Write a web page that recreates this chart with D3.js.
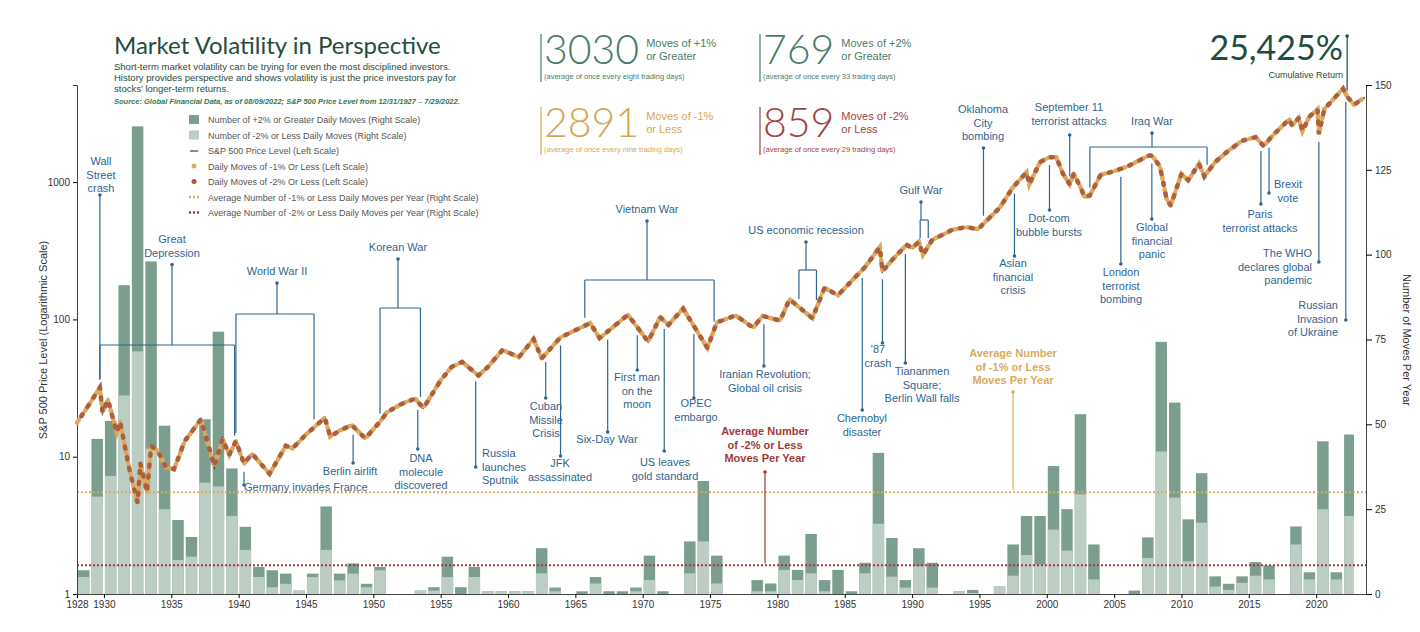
<!DOCTYPE html>
<html>
<head>
<meta charset="utf-8">
<script src="https://cdn.jsdelivr.net/npm/d3@7"></script>
<style>
body { margin: 0; background: #fff; font-family: Arial, "Liberation Sans", sans-serif; }
</style>
</head>
<body>
<svg width="1420" height="632"></svg>
<script>
const svg = d3.select("svg");

// bars: [year, total (+2% stacked on -2%), -2% count]
const barYears = [1928,1929,1930,1931,1932,1933,1934,1935,1936,1937,1938,1939,1940,1941,1942,1943,1944,1945,1946,1947,1948,1949,1950,1953,1954,1955,1956,1957,1958,1959,1960,1961,1962,1963,1965,1966,1967,1968,1969,1970,1971,1973,1974,1975,1978,1979,1980,1981,1982,1983,1984,1985,1986,1987,1988,1989,1990,1991,1993,1994,1996,1997,1998,1999,2000,2001,2002,2003,2006,2007,2008,2009,2010,2011,2012,2013,2014,2015,2016,2018,2019,2020,2021,2022,2023];
const barTotal = [7,45.7,51,91,137.8,98,49.6,21.8,16.8,51.5,77.3,37,19.8,8,7,6,1,6,25.8,6,9,3,8,1,2,11,2,8,0.8,0.8,0.8,0.8,13.5,1.9,0.8,5,0.8,0.8,1.9,11.3,0.8,15.5,33.3,11.3,4.1,3.1,11.3,7.1,17.7,4.1,7.1,0.8,9.2,41.6,16.5,4.1,13.5,9.2,0.8,1.2,2.2,14.6,23,23,37.7,25,53,14.6,1,16.7,74.3,56.4,22,35.6,5.2,3,5.2,9.4,8.4,19.9,6.4,45,6.4,47,47];
const barDown2 = [5,28.7,34.8,58.5,71.5,42.8,25,10,11,32.8,31.7,23,13,5,2,3,1,5,13,4,6,2,7,1,1,5,0,5,0.8,0.8,0.8,0.8,6.1,0.8,0,3.1,0,0,0.8,4.1,0,6.1,15.5,3.1,0.8,0.8,7.1,4.1,6.1,0.8,0,0,6.1,20.7,5.1,1.9,8.2,1.9,0.8,0.3,2.2,5.4,11.5,8.7,19,12.8,29.4,4.3,0,10.6,42,28.4,9.6,21,2.2,1.2,3.3,5.4,4.3,14.6,4.3,25,4.3,23,23];
const avgDown1 = 30;
const avgDown2 = 8.5;

// S&P 500 price level path: [year, level]
const priceYears = [1928,1928.9,1929.7,1929.9,1930.3,1930.95,1931.2,1931.9,1932.5,1932.7,1933.2,1933.5,1934,1934.6,1935.2,1936,1937.2,1938.2,1938.8,1939.3,1939.8,1940.4,1941,1942.3,1943.5,1944,1945,1946.4,1946.8,1947.5,1948.4,1949.4,1950.5,1951,1952,1953.1,1953.7,1954,1955,1955.8,1956.6,1957.8,1958.5,1959.6,1960.8,1961.9,1962.5,1963.9,1966.1,1966.8,1968.9,1970.4,1971.3,1971.9,1973,1974.8,1975.5,1976.9,1978.2,1978.9,1980.2,1980.9,1982.6,1983.5,1984.5,1985.5,1986.5,1987.6,1987.8,1988.5,1989.6,1990,1990.5,1990.8,1991.5,1993,1994,1994.9,1996.5,1997.5,1998.5,1998.7,1999.5,2000.2,2000.7,2001.2,2001.7,2002,2002.5,2002.8,2003.2,2004,2005,2006,2007.5,2007.8,2008.4,2008.9,2009.2,2010,2010.5,2011.3,2011.7,2012.5,2013.5,2014.5,2015.5,2016.1,2016.8,2018,2018.2,2018.7,2018.98,2019.5,2020.1,2020.2,2020.6,2021,2022.0,2022.3,2022.8,2023.6];
const priceLevel = [17.7,24,31.9,21,25.9,15,18,8,4.6,9,5.5,12,11,8.4,8.1,13,18.7,8.5,13.5,10.3,13,8.9,10.5,7.5,12,11.5,14.5,19.2,14,15.5,17,13.6,18,21,24,26.5,22.7,25,36,45,49,39,45,60,53,72,52,74,94,73,108,69,104,91,120,62,95,107,87,106,98,140,102,170,150,190,240,336,224,270,350,330,368,295,380,450,470,455,650,920,1180,960,1400,1520,1520,1150,965,1150,920,777,800,1130,1200,1300,1550,1565,1300,750,676,1150,1030,1360,1100,1400,1700,2000,2130,1830,2200,2870,2580,2930,2350,3000,3386,2237,3400,3750,4797,4200,3666,4130];

const xTicks = [1928,1930,1935,1940,1945,1950,1955,1960,1965,1970,1975,1980,1985,1990,1995,2000,2005,2010,2015,2020];
const leftTicks = [1,10,100,1000];
const rightTicks = [0,25,50,75,100,125,150];

const C = { dark: "#1f4e3d", barDark: "#7b9e8f", barLight: "#bccdc4", orange: "#dcaa5c", brown: "#a9553d",
  red: "#9e3b37", blue: "#2f6591", grey: "#555" };

const x = d3.scaleLinear().domain([1928, 2023.7]).range([77, 1366]);
const yR = d3.scaleLinear().domain([0, 150]).range([594, 85]);
const yL = d3.scaleLog().domain([1, Math.pow(10, 509 / 137.3)]).range([594, 85]);

const price = priceYears.map((t, i) => ({ t, v: priceLevel[i] }));
const bis = d3.bisector(d => d.t).left;
function curveY(t) {
  const i = Math.max(1, Math.min(price.length - 1, bis(price, t)));
  const a = price[i - 1], b = price[i];
  const k = (t - a.t) / (b.t - a.t);
  return yL(Math.exp(Math.log(a.v) + k * (Math.log(b.v) - Math.log(a.v))));
}

// bars
const bars = barYears.map((y, i) => ({ y, total: barTotal[i], down: barDown2[i] }));
const bw = d => Math.min(x(d.y + 1), 1355) - x(d.y) - 2;
svg.append("g").selectAll("rect").data(bars).join("rect")
  .attr("x", d => x(d.y) + 1).attr("width", bw)
  .attr("y", d => yR(d.total)).attr("height", d => yR(0) - yR(d.total))
  .attr("fill", C.barDark);
svg.append("g").selectAll("rect").data(bars).join("rect")
  .attr("x", d => x(d.y) + 1).attr("width", bw)
  .attr("y", d => yR(d.down)).attr("height", d => yR(0) - yR(d.down))
  .attr("fill", C.barLight);

// average lines
[[avgDown1, C.orange], [avgDown2, C.red]].forEach(([v, c]) => {
  svg.append("line").attr("x1", x(1928)).attr("x2", x(2023.7)).attr("y1", yR(v)).attr("y2", yR(v))
    .attr("stroke", c).attr("stroke-width", 2).attr("stroke-dasharray", "2,2");
});

// axes
svg.append("g").attr("transform", `translate(0,${yR(0)})`)
  .call(d3.axisBottom(x).tickValues(xTicks).tickFormat(d3.format("d")).tickSize(4).tickSizeOuter(0))
  .call(g => g.select(".domain").attr("stroke", "#444").attr("stroke-width", 1.2))
  .call(g => g.selectAll("text").attr("font-size", 10).attr("fill", "#333"));
svg.append("g").attr("transform", `translate(${x(1928)},0)`)
  .call(d3.axisLeft(yL).tickValues(leftTicks).tickFormat(d3.format("d")).tickSize(4))
  .call(g => g.select(".domain").attr("stroke", "#444"))
  .call(g => g.selectAll("text").attr("font-size", 10).attr("fill", "#333"));
svg.append("g").attr("transform", `translate(1366,0)`)
  .call(d3.axisRight(yR).tickValues(rightTicks).tickSize(6))
  .call(g => g.select(".domain").attr("stroke", "#444"))
  .call(g => g.selectAll("text").attr("font-size", 10).attr("fill", "#333"));
svg.append("text").attr("transform", "translate(47,340) rotate(-90)").attr("text-anchor", "middle")
  .attr("font-size", 11).attr("fill", "#333").text("S&P 500 Price Level (Logarithmic Scale)");
svg.append("text").attr("transform", "translate(1403,340) rotate(90)").attr("text-anchor", "middle")
  .attr("font-size", 11).attr("fill", "#333").text("Number of Moves Per Year");

// price line with dotted texture
const line = d3.line().x(d => x(d.t)).y(d => yL(d.v));
svg.append("path").datum(price).attr("d", line).attr("fill", "none").attr("stroke", C.dark).attr("stroke-width", 2);
svg.append("path").datum(price).attr("d", line).attr("fill", "none").attr("stroke", C.orange)
  .attr("stroke-width", 4.5).attr("stroke-dasharray", "3,4").attr("stroke-linecap", "round");
svg.append("path").datum(price).attr("d", line).attr("fill", "none").attr("stroke", C.brown)
  .attr("stroke-width", 4.5).attr("stroke-dasharray", "2,9").attr("stroke-dashoffset", 3).attr("stroke-linecap", "round").attr("opacity", 0.9);

// annotations
function label(lx, ly, lines, color, anchor, weight, fs) {
  const t = svg.append("text").attr("x", lx).attr("y", ly).attr("text-anchor", anchor || "middle")
    .attr("font-size", fs || 11).attr("fill", color || C.blue).attr("font-weight", weight || "normal");
  lines.forEach((s, i) => t.append("tspan").attr("x", lx).attr("dy", i ? (fs ? fs * 1.18 : 13.5) : 0).text(s));
}
function seg(x1, y1, x2, y2, c) {
  svg.append("line").attr("x1", x1).attr("y1", y1).attr("x2", x2).attr("y2", y2).attr("stroke", c || C.blue).attr("stroke-width", 1.2);
}
function dot(cx, cy, c) { svg.append("circle").attr("cx", cx).attr("cy", cy).attr("r", 1.8).attr("fill", c || C.blue); }

// point events: [year, lines, labelX, labelY, dotY, side, anchor]
const events = [
  [1929.7, ["Wall", "Street", "crash"], 101, 165, 195, "above"],
  [1940.4, ["Germany invades France"], 244, 491, 485, "below", "start"],
  [1948.5, ["Berlin airlift"], 350, 475, 463, "below"],
  [1953.3, ["DNA", "molecule", "discovered"], 421, 462, 449, "below"],
  [1957.6, ["Russia", "launches", "Sputnik"], 482, 457, 467, "below", "start"],
  [1962.8, ["Cuban", "Missile", "Crisis"], 546, 410, 398, "below"],
  [1963.9, ["JFK", "assassinated"], 560, 467, 456, "below"],
  [1967.4, ["Six-Day War"], 607, 443, 432, "below"],
  [1969.6, ["First man", "on the", "moon"], 637, 381, 370, "below"],
  [1971.6, ["US leaves", "gold standard"], 665, 466, 451, "below"],
  [1973.8, ["OPEC", "embargo"], 696, 407, 398, "below"],
  [1979.0, ["Iranian Revolution;", "Global oil crisis"], 765, 378, 366, "below"],
  [1986.3, ["Chernobyl", "disaster"], 862, 422, 410, "below"],
  [1987.8, ["'87", "crash"], 878, 353, 343, "below"],
  [1989.5, ["Tiananmen", "Square;", "Berlin Wall falls"], 922, 375, 363, "below"],
  [1995.3, ["Oklahoma", "City", "bombing"], 983, 113, 148, "above"],
  [1997.6, ["Asian", "financial", "crisis"], 1013, 267, 256, "below"],
  [2000.2, ["Dot-com", "bubble bursts"], 1049, 222, 210, "below"],
  [2001.7, ["September 11", "terrorist attacks"], 1069, 111, 135, "above"],
  [2005.5, ["London", "terrorist", "bombing"], 1121, 276, 264, "below"],
  [2007.8, ["Global", "financial", "panic"], 1152, 231, 219, "below"],
  [2015.9, ["Paris", "terrorist attacks"], 1260, 218, 204, "below"],
  [2016.5, ["Brexit", "vote"], 1288, 188, 193, "below"],
  [2020.2, ["The WHO", "declares global", "pandemic"], 1312, 257, 262, "below", "end"],
  [2022.2, ["Russian", "Invasion", "of Ukraine"], 1338, 309, 320, "below", "end"]
];
events.forEach(([t, lines, lx, ly, dy, side, anchor]) => {
  const px = x(t), cy = curveY(t);
  if (side === "above") seg(px, dy, px, cy - 8); else seg(px, cy + 8, px, dy);
  dot(px, dy);
  label(lx, ly, lines, C.blue, anchor);
});

// range events: [from, to, lines, labelX, labelY, bracketY]
const ranges = [
  [1929.7, 1939.7, ["Great", "Depression"], 172, 243, 345],
  [1939.8, 1945.6, ["World War II"], 277, 275, 314],
  [1950.5, 1953.5, ["Korean War"], 398, 251, 308],
  [1965.7, 1975.3, ["Vietnam War"], 647, 213, 280],
  [1981.6, 1982.9, ["US economic recession"], 806, 234, 270],
  [1990.6, 1991.2, ["Gulf War"], 921, 194, 220],
  [2003.2, 2011.9, ["Iraq War"], 1152, 125, 147]
];
ranges.forEach(([a, b, lines, lx, ly, by]) => {
  const xa = x(a), xb = x(b), top = ly + 13.5 * (lines.length - 1) + 8;
  seg(lx, top, lx, by); dot(lx, top);
  seg(xa, by, xb, by);
  seg(xa, by, xa, Math.max(by + 6, curveY(a) - 8));
  seg(xb, by, xb, Math.max(by + 6, curveY(b) - 8));
  label(lx, ly, lines);
});

// average labels
label(765, 435, ["Average Number", "of -2% or Less", "Moves Per Year"], C.red, "middle", "bold");
seg(765, 472, 765, yR(avgDown2) - 2, C.red); dot(765, 472, C.red);
label(1013, 357, ["Average Number", "of -1% or Less", "Moves Per Year"], C.orange, "middle", "bold");
seg(1013, 392, 1013, yR(avgDown1) - 2, C.orange); dot(1013, 392, C.orange);

// header
svg.append("text").attr("x", 114).attr("y", 54).attr("font-size", 24).attr("fill", C.dark)
  .attr("font-family", "Lato, sans-serif").text("Market Volatility in Perspective");
label(114, 70, ["Short-term market volatility can be trying for even the most disciplined investors.",
  "History provides perspective and shows volatility is just the price investors pay for",
  "stocks' longer-term returns."], "#1f4e3d", "start", "normal", 9.5);
svg.append("text").attr("x", 114).attr("y", 104).attr("font-size", 7.5).attr("font-style", "italic")
  .attr("font-weight", "bold").attr("fill", "#2e7a50")
  .text("Source: Global Financial Data, as of 08/09/2022; S&P 500 Price Level from 12/31/1927 – 7/29/2022.");

// legend
const legend = [
  ["rect", C.barDark, "Number of +2% or Greater Daily Moves (Right Scale)"],
  ["rect", C.barLight, "Number of -2% or Less Daily Moves (Right Scale)"],
  ["line", C.dark, "S&P 500 Price Level (Left Scale)"],
  ["dot", C.orange, "Daily Moves of -1% Or Less (Left Scale)"],
  ["dot", C.brown, "Daily Moves of -2% Or Less (Left Scale)"],
  ["dash", C.orange, "Average Number of -1% or Less Daily Moves per Year (Right Scale)"],
  ["dash", C.red, "Average Number of -2% or Less Daily Moves per Year (Right Scale)"]
];
legend.forEach(([k, c, s], i) => {
  const ly = 121 + i * 15.5;
  if (k === "rect") svg.append("rect").attr("x", 189).attr("y", ly - 6).attr("width", 10).attr("height", 9).attr("fill", c);
  if (k === "line") seg(190, ly - 1, 198, ly - 1, c);
  if (k === "dot") svg.append("circle").attr("cx", 194).attr("cy", ly - 1.5).attr("r", 2.5).attr("fill", c);
  if (k === "dash") svg.append("line").attr("x1", 189).attr("x2", 200).attr("y1", ly - 1.5).attr("y2", ly - 1.5)
    .attr("stroke", c).attr("stroke-width", 2.5).attr("stroke-dasharray", "2,2");
  svg.append("text").attr("x", 208).attr("y", ly + 2).attr("font-size", 9).attr("fill", C.grey).text(s);
});

// stat boxes
const stats = [
  ["3030", "Moves of +1%", "or Greater", "(average of once every eight trading days)", "#4a7d69", 541, 64],
  ["769", "Moves of +2%", "or Greater", "(average of once every 33 trading days)", "#4a7d69", 760, 64],
  ["2891", "Moves of -1%", "or Less", "(average of once every nine trading days)", "#d7a754", 541, 137],
  ["859", "Moves of -2%", "or Less", "(average of once every 29 trading days)", "#a04443", 760, 137]
];
stats.forEach(([n, a, b, note, c, sx, sy]) => {
  seg(sx, sy - 30, sx, sy + 18, c);
  const big = svg.append("text").attr("x", sx + 3).attr("y", sy).attr("font-size", 41).attr("fill", c)
    .attr("font-family", "Lato, sans-serif").attr("font-weight", 300).text(n);
  const w = big.node().getComputedTextLength();
  svg.append("text").attr("x", sx + 10 + w).attr("y", sy - 17).attr("font-size", 11).attr("fill", c).text(a);
  svg.append("text").attr("x", sx + 10 + w).attr("y", sy - 4).attr("font-size", 11).attr("fill", c).text(b);
  svg.append("text").attr("x", sx + 3).attr("y", sy + 15).attr("font-size", 7.5).attr("fill", c).text(note);
});

// cumulative return
svg.append("text").attr("x", 1343).attr("y", 60).attr("text-anchor", "end").attr("font-size", 34)
  .attr("fill", C.dark).attr("font-family", "Lato, sans-serif").text("25,425%");
svg.append("text").attr("x", 1343).attr("y", 78).attr("text-anchor", "end").attr("font-size", 9)
  .attr("fill", C.dark).text("Cumulative Return");
seg(x(2022.3), 36, x(2022.3), curveY(2022.3) - 6, C.dark); dot(x(2022.3), 36, C.dark);
</script>
</body>
</html>
